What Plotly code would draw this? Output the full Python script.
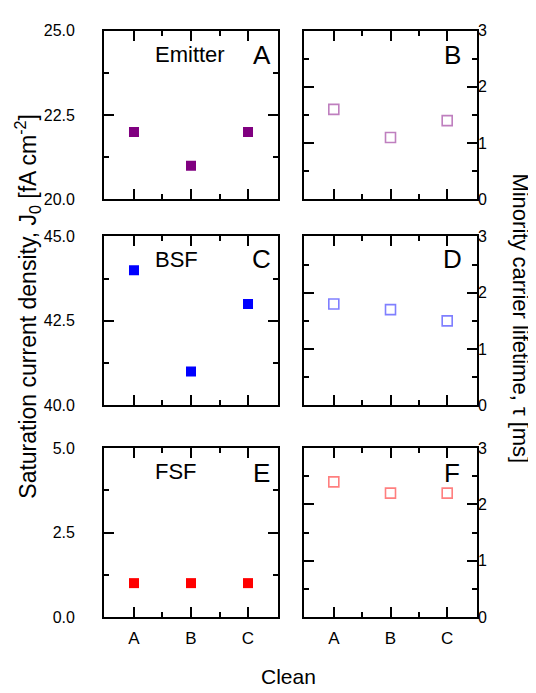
import plotly.graph_objects as go

categories = ["A", "B", "C"]
cat_pos = [1, 2, 3]

emitter_j0 = [22.0, 21.0, 22.0]
bsf_j0 = [44.0, 41.0, 43.0]
fsf_j0 = [1.0, 1.0, 1.0]

emitter_tau = [1.6, 1.1, 1.4]
bsf_tau = [1.8, 1.7, 1.5]
fsf_tau = [2.4, 2.2, 2.2]

region_names = ["Emitter", "BSF", "FSF"]
panel_letters = [["A", "B"], ["C", "D"], ["E", "F"]]
j0_ranges = [[20, 25], [40, 45], [0, 5]]
j0_ticks = [[20, 22.5, 25], [40, 42.5, 45], [0, 2.5, 5]]
j0_minor = [[21.25, 23.75], [41.25, 43.75], [1.25, 3.75]]
tau_range = [0, 3]
tau_ticks = [0, 1, 2, 3]
tau_minor = [0.5, 1.5, 2.5]

fill_colors = ["#800080", "#0000FF", "#FF0000"]
open_colors = ["rgba(128,0,128,0.5)", "rgba(0,0,255,0.5)", "rgba(255,0,0,0.5)"]

W, H = 536, 693
col_px = [(96, 270), (296, 469)]
row_px = [(15, 188), (226, 399), (443, 616)]
letter_cx = [253.5, 444]
name_left_px = 147
letter_dy = [25, 23, 25]

FONT = "Liberation Sans, Arial, sans-serif"

fig = go.Figure()
layout = dict(
    width=W, height=H,
    margin=dict(l=0, r=0, t=0, b=0),
    paper_bgcolor="white", plot_bgcolor="white",
    showlegend=False,
    font=dict(family=FONT, color="black"),
)
annotations = []

j0_series = [emitter_j0, bsf_j0, fsf_j0]
tau_series = [emitter_tau, bsf_tau, fsf_tau]

for r in range(3):
    for c in range(2):
        n = r * 2 + c + 1
        xa = "xaxis" if n == 1 else f"xaxis{n}"
        ya = "yaxis" if n == 1 else f"yaxis{n}"
        xr = "x" if n == 1 else f"x{n}"
        yr = "y" if n == 1 else f"y{n}"
        x0, x1 = col_px[c]
        y0, y1 = row_px[r]
        layout[xa] = dict(
            domain=[x0 / W, x1 / W], anchor=yr,
            range=[0.474, 3.526],
            tickvals=cat_pos, ticktext=categories,
            showticklabels=(r == 2),
            ticks="inside", ticklen=10, tickwidth=1.6, tickcolor="black",
            minor=dict(tickvals=[1.5, 2.5], ticks="inside", ticklen=5,
                       tickwidth=1.6, tickcolor="black"),
            showline=True, linewidth=1.8, linecolor="black", mirror="ticks",
            showgrid=False, zeroline=False,
            tickfont=dict(size=17, family=FONT),
            ticklabelstandoff=5,
        )
        if c == 0:
            yd = dict(
                range=j0_ranges[r], tickvals=j0_ticks[r], tickformat=".1f",
                minor=dict(tickvals=j0_minor[r], ticks="inside", ticklen=5,
                           tickwidth=1.6, tickcolor="black"),
                side="left",
                ticklabelstandoff=24,
            )
            fig.add_trace(go.Scatter(
                x=cat_pos, y=j0_series[r], mode="markers",
                marker=dict(symbol="square", size=10, color=fill_colors[r],
                            line=dict(width=0)),
                xaxis=xr, yaxis=yr,
            ))
        else:
            yd = dict(
                range=tau_range, tickvals=tau_ticks,
                minor=dict(tickvals=tau_minor, ticks="inside", ticklen=5,
                           tickwidth=1.6, tickcolor="black"),
                side="right",
                ticklabelstandoff=-4,
            )
            fig.add_trace(go.Scatter(
                x=cat_pos, y=tau_series[r], mode="markers",
                marker=dict(symbol="square-open", size=10, color=open_colors[r],
                            line=dict(width=1.6, color=open_colors[r])),
                xaxis=xr, yaxis=yr,
            ))
        yd.update(dict(
            domain=[1 - y1 / H, 1 - y0 / H], anchor=xr,
            ticks="inside", ticklen=10, tickwidth=1.6, tickcolor="black",
            showline=True, linewidth=1.8, linecolor="black", mirror="ticks",
            showgrid=False, zeroline=False,
            tickfont=dict(size=16, family=FONT),
        ))
        layout[ya] = yd

        # panel letter
        annotations.append(dict(
            text=panel_letters[r][c], xref="paper", yref="paper",
            x=letter_cx[c] / W, y=1 - (y0 + letter_dy[r]) / H,
            xanchor="center", yanchor="middle", showarrow=False,
            font=dict(size=26, family=FONT, color="black"),
        ))
        if c == 0:
            annotations.append(dict(
                text=region_names[r], xref="paper", yref="paper",
                x=(name_left_px - 2) / W, y=1 - (y0 + 24) / H,
                xanchor="left", yanchor="middle", showarrow=False,
                font=dict(size=22, family=FONT, color="black"),
            ))

annotations.append(dict(
    text="Saturation current density, J<sub>0</sub> [fA cm<sup>-2</sup>]",
    xref="paper", yref="paper", x=19 / W, y=1 - 298 / H,
    xanchor="center", yanchor="middle", textangle=-90, showarrow=False,
    font=dict(size=23, family=FONT, color="black"),
))
annotations.append(dict(
    text="Minority carrier lifetime, τ [ms]",
    xref="paper", yref="paper", x=513 / W, y=1 - 310 / H,
    xanchor="center", yanchor="middle", textangle=90, showarrow=False,
    font=dict(size=22, family=FONT, color="black"),
))
annotations.append(dict(
    text="Clean", xref="paper", yref="paper", x=280 / W, y=1 - 677 / H,
    xanchor="center", yanchor="middle", showarrow=False,
    font=dict(size=21, family=FONT, color="black"),
))
layout["annotations"] = annotations
fig.update_layout(**layout)
fig.write_html("out.html")
